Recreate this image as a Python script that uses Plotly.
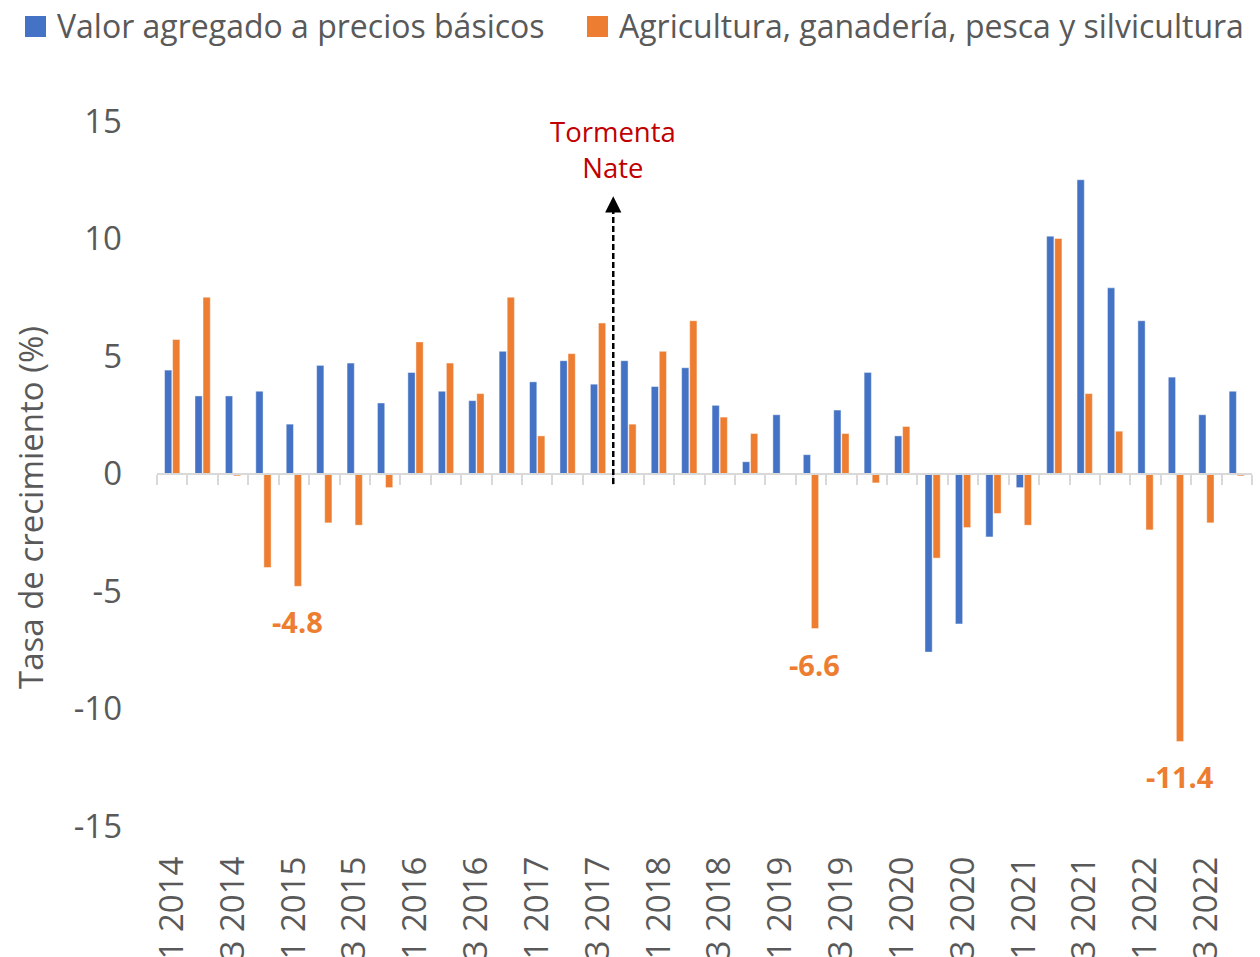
import plotly.graph_objects as go

# ---------------- data ----------------
quarters = ["1 2014", "2 2014", "3 2014", "4 2014",
            "1 2015", "2 2015", "3 2015", "4 2015",
            "1 2016", "2 2016", "3 2016", "4 2016",
            "1 2017", "2 2017", "3 2017", "4 2017",
            "1 2018", "2 2018", "3 2018", "4 2018",
            "1 2019", "2 2019", "3 2019", "4 2019",
            "1 2020", "2 2020", "3 2020", "4 2020",
            "1 2021", "2 2021", "3 2021", "4 2021",
            "1 2022", "2 2022", "3 2022", "4 2022"]

valor_agregado = [4.4, 3.3, 3.3, 3.5,
                  2.1, 4.6, 4.7, 3.0,
                  4.3, 3.5, 3.1, 5.2,
                  3.9, 4.8, 3.8, 4.8,
                  3.7, 4.5, 2.9, 0.5,
                  2.5, 0.8, 2.7, 4.3,
                  1.6, -7.6, -6.4, -2.7,
                  -0.6, 10.1, 12.5, 7.9,
                  6.5, 4.1, 2.5, 3.5]

agricultura = [5.7, 7.5, -0.1, -4.0,
               -4.8, -2.1, -2.2, -0.6,
               5.6, 4.7, 3.4, 7.5,
               1.6, 5.1, 6.4, 2.1,
               5.2, 6.5, 2.4, 1.7,
               0.0, -6.6, 1.7, -0.4,
               2.0, -3.6, -2.3, -1.7,
               -2.2, 10.0, 3.4, 1.8,
               -2.4, -11.4, -2.1, -0.1]

series_names = ["Valor agregado a precios básicos",
                "Agricultura, ganadería, pesca y silvicultura"]
series_colors = ["#4472C4", "#ED7D31"]

labeled_quarters = ["1 2015", "2 2019", "2 2022"]   # orange minima labelled
event_quarter = "4 2017"                             # Tormenta Nate
event_text = "Tormenta<br>Nate"

y_ticks = [-15, -10, -5, 0, 5, 10, 15]
y_title = "Tasa de crecimiento (%)"

# ---------------- layout helpers ----------------
W, H = 1260, 957
L, R, T, B = 157, 1252, 121, 826
PW, PH = R - L, B - T


def px(xp):
    return (xp - L) / PW


def py(yp):
    return (B - yp) / PH


FONT = "Open Sans"
GREY = "#595959"
FS = 33

xpos = list(range(1, len(quarters) + 1))

fig = go.Figure()
for name, vals, col in zip(series_names, [valor_agregado, agricultura], series_colors):
    fig.add_trace(go.Bar(x=xpos, y=vals, name=name, marker_color=col,
                         marker_line=dict(color="rgba(255,255,255,0.55)", width=0.8),
                         showlegend=False))

# helper trace to hold the zero-line axis
fig.add_trace(go.Scatter(x=[], y=[], xaxis="x2", yaxis="y", showlegend=False, hoverinfo="skip"))

tick_idx = xpos[0::2]
tick_txt = quarters[0::2]
boundaries = [v - 0.5 for v in xpos] + [xpos[-1] + 0.5]

fig.update_layout(
    width=W, height=H,
    margin=dict(l=L, r=W - R, t=T, b=H - B),
    paper_bgcolor="white", plot_bgcolor="white",
    font=dict(family=FONT, color=GREY, size=FS),
    barmode="group", bargap=0.47, bargroupgap=0.1,
    showlegend=False,
    xaxis=dict(range=[0.5, len(quarters) + 0.5], tickvals=tick_idx, ticktext=tick_txt,
               tickangle=-90, showline=False, showgrid=False, zeroline=False,
               ticks="", automargin=False, ticklabelstandoff=23,
               tickfont=dict(family=FONT, size=FS, color=GREY)),
    xaxis2=dict(range=[0.5, len(quarters) + 0.5], overlaying="x", anchor="free", position=0.5,
                showline=True, linecolor="#D9D9D9", linewidth=2,
                ticks="outside", tickvals=boundaries, ticklen=10, tickwidth=2, tickcolor="#D9D9D9",
                showticklabels=False, showgrid=False, zeroline=False, automargin=False),
    yaxis=dict(range=[-15, 15], tickvals=y_ticks, ticktext=[str(v) for v in y_ticks],
               showgrid=False, zeroline=False, showline=False, ticks="",
               automargin=False, ticklabelstandoff=34,
               tickfont=dict(family=FONT, size=FS, color=GREY)),
)

# y axis title
fig.add_annotation(xref="paper", yref="paper", x=px(30), y=py(508), text=y_title,
                   textangle=-90, showarrow=False, xanchor="center", yanchor="middle",
                   font=dict(family=FONT, size=FS, color=GREY))

# manual legend
sq_left = [25, 587]
txt_left = [55, 617]
for name, col, sx, tx in zip(series_names, series_colors, sq_left, txt_left):
    fig.add_shape(type="rect", xref="paper", yref="paper",
                  x0=px(sx), x1=px(sx + 21), y0=py(37), y1=py(16),
                  fillcolor=col, line=dict(width=0))
    fig.add_annotation(xref="paper", yref="paper", x=px(tx), y=py(26), text=name,
                       showarrow=False, xanchor="left", yanchor="middle",
                       font=dict(family=FONT, size=32, color=GREY))

# labels for orange minima
for q in labeled_quarters:
    i = quarters.index(q)
    v = agricultura[i]
    fig.add_annotation(x=xpos[i], y=v, text=f"{v:.1f}", showarrow=False,
                       xanchor="center", yanchor="top", xshift=4, yshift=-14,
                       font=dict(family=FONT, size=29, color="#ED7D31", weight="bold"))

# Tormenta Nate marker
ev_x = xpos[quarters.index(event_quarter)] - 0.5
tip_y = 11.8
fig.add_shape(type="line", x0=ev_x, x1=ev_x, y0=-0.45, y1=tip_y - 0.3,
              line=dict(color="black", width=2.5, dash="6px,3px"))
fig.add_annotation(x=ev_x, y=tip_y, ax=ev_x, ay=tip_y - 0.4, axref="x", ayref="y",
                   text="", showarrow=True, arrowhead=2, arrowsize=1.3, arrowwidth=2.5,
                   arrowcolor="black")
fig.add_annotation(x=ev_x, y=13.8, text=event_text, showarrow=False,
                   xanchor="center", yanchor="middle",
                   font=dict(family=FONT, size=27.5, color="#C00000"))

fig.write_html("out.html", config={"displayModeBar": False},
               post_script="document.body.style.margin='0';")
